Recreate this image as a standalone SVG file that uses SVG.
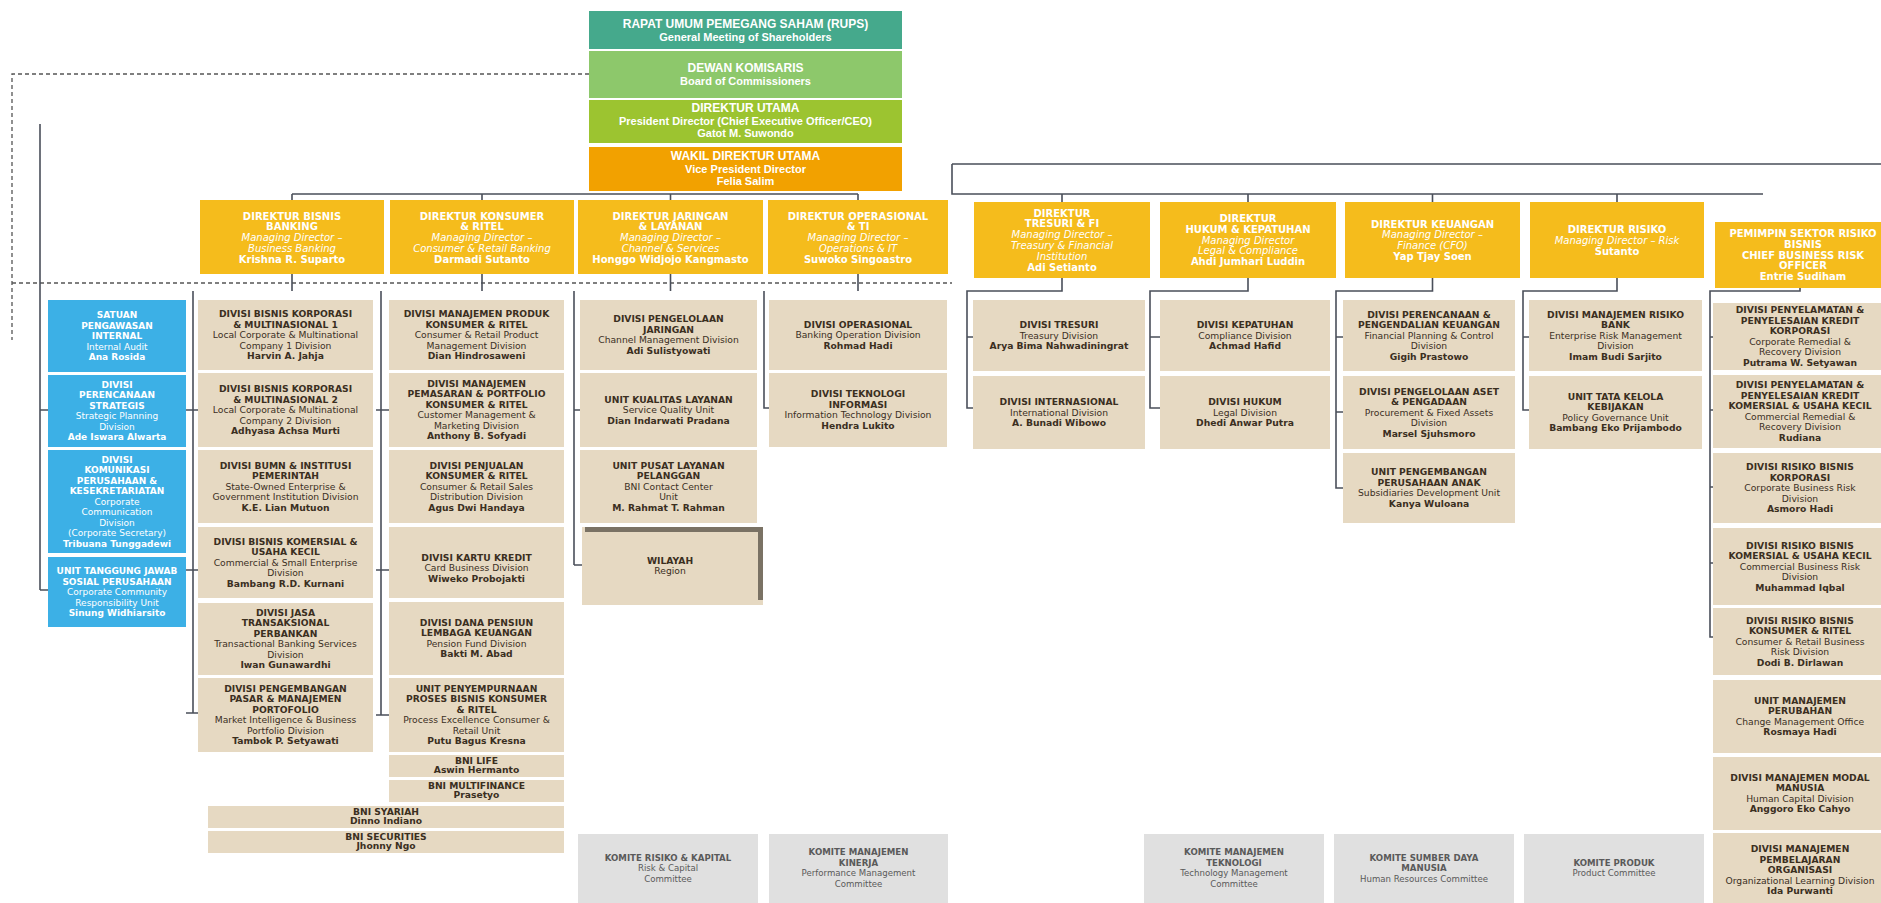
<svg xmlns="http://www.w3.org/2000/svg" width="1881" height="903" viewBox="0 0 1881 903">
<style>
.bx{fill:#e6d9c2}
.bl{fill:#3cb0e6}
.dy{fill:#f5bc1c}
.cm{fill:#e0e0e0}
.ln{stroke:#4a4f5a;stroke-width:1.6;fill:none}
.ds{stroke:#555;stroke-width:1.3;stroke-dasharray:4 3;fill:none}
.t{font-family:"DejaVu Sans","Liberation Sans",sans-serif;font-size:9.2px;fill:#3b2f1f;text-anchor:middle}
.tw{font-family:"DejaVu Sans","Liberation Sans",sans-serif;font-size:9px;fill:#ffffff;text-anchor:middle}
.td{font-family:"DejaVu Sans","Liberation Sans",sans-serif;font-size:10px;fill:#ffffff;text-anchor:middle;font-weight:bold}
.tt{font-family:"Liberation Sans",Arial,sans-serif;font-size:11px;fill:#ffffff;text-anchor:middle;font-weight:bold}
.tt .h{font-size:12px}
.tc{font-family:"DejaVu Sans","Liberation Sans",sans-serif;font-size:8.6px;fill:#5a5a5a;text-anchor:middle}
.b{font-weight:bold}
.i{font-style:italic;font-weight:normal}
</style>
<rect width="1881" height="903" fill="#ffffff"/>

<g id="connectors">
<path class="ds" d="M589 74 H12 V340"/>
<path class="ds" d="M12 283 H952"/>
<path class="ln" d="M40 124 V590 M40 410 H48 M40 590 H48"/>
<path class="ln" d="M292 194 H858 M292 194 V200 M482 194 V200 M670.5 194 V200 M858 194 V200"/>
<path class="ln" d="M952 164 H1881 M952 164 V194 H1763 M1062 194 V202 M1248 194 V202 M1432.5 194 V202 M1617 194 V202"/>
<path class="ln" d="M292 274 V291 M482 274 V291 M670.5 274 V291 M858 274 V291"/>
<path class="ln" d="M193 291 V713 M186 410 H198 M186 570 H198 M186 713 H198"/>
<path class="ln" d="M381 291 V715 M376 410 H389 M376 570 H389 M376 715 H389"/>
<path class="ln" d="M574 291 V565 M574 410 H580 M574 565 H583"/>
<path class="ln" d="M764 291 V408 H769"/>
<path class="ln" d="M1062 278 V291 H967 V408 H973 M967 337 H973"/>
<path class="ln" d="M1248 278 V291 H1150 V408 H1160 M1150 337 H1160"/>
<path class="ln" d="M1432.5 278 V291 H1336 V488 H1343 M1336 337 H1343 M1336 412 H1343"/>
<path class="ln" d="M1617 278 V291 H1523 V410 H1529 M1523 337 H1529"/>
<path class="ln" d="M1800 288 V291 H1710 V637 H1713 M1710 337 H1713 M1710 410 H1713 M1710 487 H1713 M1710 563 H1713"/>
</g>

<g id="rups"><rect x="589" y="11" width="313" height="38" fill="#45a98c"/>
<text class="tt" x="745.5" y="28"><tspan x="745.5" class="h">RAPAT UMUM PEMEGANG SAHAM (RUPS)</tspan><tspan x="745.5" dy="12.5">General Meeting of Shareholders</tspan></text></g>
<g id="dekom"><rect x="589" y="51" width="313" height="47" fill="#8dc86b"/>
<text class="tt" x="745.5" y="72"><tspan x="745.5" class="h">DEWAN KOMISARIS</tspan><tspan x="745.5" dy="12.5">Board of Commissioners</tspan></text></g>
<g id="dirut"><rect x="589" y="100" width="313" height="43" fill="#9cc430"/>
<text class="tt" x="745.5" y="112"><tspan x="745.5" class="h">DIREKTUR UTAMA</tspan><tspan x="745.5" dy="12.5">President Director (Chief Executive Officer/CEO)</tspan><tspan x="745.5" dy="12.5">Gatot M. Suwondo</tspan></text></g>
<g id="wadirut"><rect x="589" y="147" width="313" height="44" fill="#f2a100"/>
<text class="tt" x="745.5" y="160"><tspan x="745.5" class="h">WAKIL DIREKTUR UTAMA</tspan><tspan x="745.5" dy="12.5">Vice President Director</tspan><tspan x="745.5" dy="12.5">Felia Salim</tspan></text></g>

<g id="dir-bisnis"><rect class="dy" x="200" y="200" width="184" height="74"/>
<text class="td" y="219.5"><tspan x="292">DIREKTUR BISNIS</tspan><tspan x="292" dy="10.8">BANKING</tspan><tspan x="292" dy="10.8" class="i">Managing Director –</tspan><tspan x="292" dy="10.8" class="i">Business Banking</tspan><tspan x="292" dy="10.8">Krishna R. Suparto</tspan></text></g>
<g id="dir-konsumer"><rect class="dy" x="390" y="200" width="184" height="74"/>
<text class="td" y="219.5"><tspan x="482">DIREKTUR KONSUMER</tspan><tspan x="482" dy="10.8">&amp; RITEL</tspan><tspan x="482" dy="10.8" class="i">Managing Director –</tspan><tspan x="482" dy="10.8" class="i">Consumer &amp; Retail Banking</tspan><tspan x="482" dy="10.8">Darmadi Sutanto</tspan></text></g>
<g id="dir-jaringan"><rect class="dy" x="578" y="200" width="185" height="74"/>
<text class="td" y="219.5"><tspan x="670.5">DIREKTUR JARINGAN</tspan><tspan x="670.5" dy="10.8">&amp; LAYANAN</tspan><tspan x="670.5" dy="10.8" class="i">Managing Director –</tspan><tspan x="670.5" dy="10.8" class="i">Channel &amp; Services</tspan><tspan x="670.5" dy="10.8">Honggo Widjojo Kangmasto</tspan></text></g>
<g id="dir-operasional"><rect class="dy" x="768" y="200" width="180" height="74"/>
<text class="td" y="219.5"><tspan x="858">DIREKTUR OPERASIONAL</tspan><tspan x="858" dy="10.8">&amp; TI</tspan><tspan x="858" dy="10.8" class="i">Managing Director –</tspan><tspan x="858" dy="10.8" class="i">Operations &amp; IT</tspan><tspan x="858" dy="10.8">Suwoko Singoastro</tspan></text></g>
<g id="dir-tresuri"><rect class="dy" x="974" y="202" width="176" height="76"/>
<text class="td" y="216.5"><tspan x="1062">DIREKTUR</tspan><tspan x="1062" dy="10.8">TRESURI &amp; FI</tspan><tspan x="1062" dy="10.8" class="i">Managing Director –</tspan><tspan x="1062" dy="10.8" class="i">Treasury &amp; Financial</tspan><tspan x="1062" dy="10.8" class="i">Institution</tspan><tspan x="1062" dy="10.8">Adi Setianto</tspan></text></g>
<g id="dir-hukum"><rect class="dy" x="1160" y="202" width="176" height="76"/>
<text class="td" y="222"><tspan x="1248">DIREKTUR</tspan><tspan x="1248" dy="10.8">HUKUM &amp; KEPATUHAN</tspan><tspan x="1248" dy="10.8" class="i">Managing Director</tspan><tspan x="1248" dy="10.8" class="i">Legal &amp; Compliance</tspan><tspan x="1248" dy="10.8">Ahdi Jumhari Luddin</tspan></text></g>
<g id="dir-keuangan"><rect class="dy" x="1345" y="202" width="175" height="76"/>
<text class="td" y="227.5"><tspan x="1432.5">DIREKTUR KEUANGAN</tspan><tspan x="1432.5" dy="10.8" class="i">Managing Director –</tspan><tspan x="1432.5" dy="10.8" class="i">Finance (CFO)</tspan><tspan x="1432.5" dy="10.8">Yap Tjay Soen</tspan></text></g>
<g id="dir-risiko"><rect class="dy" x="1530" y="202" width="174" height="76"/>
<text class="td" y="233"><tspan x="1617">DIREKTUR RISIKO</tspan><tspan x="1617" dy="10.8" class="i">Managing Director – Risk</tspan><tspan x="1617" dy="10.8">Sutanto</tspan></text></g>
<g id="cbro"><rect class="dy" x="1715" y="222" width="176" height="66"/>
<text class="td" y="237"><tspan x="1803">PEMIMPIN SEKTOR RISIKO</tspan><tspan x="1803" dy="10.8">BISNIS</tspan><tspan x="1803" dy="10.8">CHIEF BUSINESS RISK</tspan><tspan x="1803" dy="10.8">OFFICER</tspan><tspan x="1803" dy="10.8">Entrie Sudiham</tspan></text></g>

<g id="spi"><rect class="bl" x="48" y="300" width="138" height="72"/>
<text class="tw" y="318"><tspan x="117" class="b">SATUAN</tspan><tspan x="117" dy="10.5" class="b">PENGAWASAN</tspan><tspan x="117" dy="10.5" class="b">INTERNAL</tspan><tspan x="117" dy="10.5">Internal Audit</tspan><tspan x="117" dy="10.5" class="b">Ana Rosida</tspan></text></g>
<g id="strategis"><rect class="bl" x="48" y="375" width="138" height="72"/>
<text class="tw" y="387.75"><tspan x="117" class="b">DIVISI</tspan><tspan x="117" dy="10.5" class="b">PERENCANAAN</tspan><tspan x="117" dy="10.5" class="b">STRATEGIS</tspan><tspan x="117" dy="10.5">Strategic Planning</tspan><tspan x="117" dy="10.5">Division</tspan><tspan x="117" dy="10.5" class="b">Ade Iswara Alwarta</tspan></text></g>
<g id="komunikasi"><rect class="bl" x="48" y="450" width="138" height="103"/>
<text class="tw" y="462.5"><tspan x="117" class="b">DIVISI</tspan><tspan x="117" dy="10.5" class="b">KOMUNIKASI</tspan><tspan x="117" dy="10.5" class="b">PERUSAHAAN &amp;</tspan><tspan x="117" dy="10.5" class="b">KESEKRETARIATAN</tspan><tspan x="117" dy="10.5">Corporate</tspan><tspan x="117" dy="10.5">Communication</tspan><tspan x="117" dy="10.5">Division</tspan><tspan x="117" dy="10.5">(Corporate Secretary)</tspan><tspan x="117" dy="10.5" class="b">Tribuana Tunggadewi</tspan></text></g>
<g id="csr"><rect class="bl" x="48" y="557" width="138" height="70"/>
<text class="tw" y="574"><tspan x="117" class="b">UNIT TANGGUNG JAWAB</tspan><tspan x="117" dy="10.5" class="b">SOSIAL PERUSAHAAN</tspan><tspan x="117" dy="10.5">Corporate Community</tspan><tspan x="117" dy="10.5">Responsibility Unit</tspan><tspan x="117" dy="10.5" class="b">Sinung Widhiarsito</tspan></text></g>

<g id="bk1"><rect class="bx" x="198" y="300" width="175" height="70"/>
<text class="t" y="317"><tspan x="285.5" class="b">DIVISI BISNIS KORPORASI</tspan><tspan x="285.5" dy="10.5" class="b">&amp; MULTINASIONAL 1</tspan><tspan x="285.5" dy="10.5">Local Corporate &amp; Multinational</tspan><tspan x="285.5" dy="10.5">Company 1 Division</tspan><tspan x="285.5" dy="10.5" class="b">Harvin A. Jahja</tspan></text></g>
<g id="bk2"><rect class="bx" x="198" y="373" width="175" height="74"/>
<text class="t" y="392"><tspan x="285.5" class="b">DIVISI BISNIS KORPORASI</tspan><tspan x="285.5" dy="10.5" class="b">&amp; MULTINASIONAL 2</tspan><tspan x="285.5" dy="10.5">Local Corporate &amp; Multinational</tspan><tspan x="285.5" dy="10.5">Company 2 Division</tspan><tspan x="285.5" dy="10.5" class="b">Adhyasa Achsa Murti</tspan></text></g>
<g id="bumn"><rect class="bx" x="198" y="450" width="175" height="73"/>
<text class="t" y="468.5"><tspan x="285.5" class="b">DIVISI BUMN &amp; INSTITUSI</tspan><tspan x="285.5" dy="10.5" class="b">PEMERINTAH</tspan><tspan x="285.5" dy="10.5">State-Owned Enterprise &amp;</tspan><tspan x="285.5" dy="10.5">Government Institution Division</tspan><tspan x="285.5" dy="10.5" class="b">K.E. Lian Mutuon</tspan></text></g>
<g id="komersial"><rect class="bx" x="198" y="527" width="175" height="71"/>
<text class="t" y="544.5"><tspan x="285.5" class="b">DIVISI BISNIS KOMERSIAL &amp;</tspan><tspan x="285.5" dy="10.5" class="b">USAHA KECIL</tspan><tspan x="285.5" dy="10.5">Commercial &amp; Small Enterprise</tspan><tspan x="285.5" dy="10.5">Division</tspan><tspan x="285.5" dy="10.5" class="b">Bambang R.D. Kurnani</tspan></text></g>
<g id="jasa"><rect class="bx" x="198" y="603" width="175" height="72"/>
<text class="t" y="615.75"><tspan x="285.5" class="b">DIVISI JASA</tspan><tspan x="285.5" dy="10.5" class="b">TRANSAKSIONAL</tspan><tspan x="285.5" dy="10.5" class="b">PERBANKAN</tspan><tspan x="285.5" dy="10.5">Transactional Banking Services</tspan><tspan x="285.5" dy="10.5">Division</tspan><tspan x="285.5" dy="10.5" class="b">Iwan Gunawardhi</tspan></text></g>
<g id="pasar"><rect class="bx" x="198" y="678" width="175" height="74"/>
<text class="t" y="691.75"><tspan x="285.5" class="b">DIVISI PENGEMBANGAN</tspan><tspan x="285.5" dy="10.5" class="b">PASAR &amp; MANAJEMEN</tspan><tspan x="285.5" dy="10.5" class="b">PORTOFOLIO</tspan><tspan x="285.5" dy="10.5">Market Intelligence &amp; Business</tspan><tspan x="285.5" dy="10.5">Portfolio Division</tspan><tspan x="285.5" dy="10.5" class="b">Tambok P. Setyawati</tspan></text></g>

<g id="produk"><rect class="bx" x="389" y="300" width="175" height="70"/>
<text class="t" y="317"><tspan x="476.5" class="b">DIVISI MANAJEMEN PRODUK</tspan><tspan x="476.5" dy="10.5" class="b">KONSUMER &amp; RITEL</tspan><tspan x="476.5" dy="10.5">Consumer &amp; Retail Product</tspan><tspan x="476.5" dy="10.5">Management Division</tspan><tspan x="476.5" dy="10.5" class="b">Dian Hindrosaweni</tspan></text></g>
<g id="pemasaran"><rect class="bx" x="389" y="373" width="175" height="74"/>
<text class="t" y="386.75"><tspan x="476.5" class="b">DIVISI MANAJEMEN</tspan><tspan x="476.5" dy="10.5" class="b">PEMASARAN &amp; PORTFOLIO</tspan><tspan x="476.5" dy="10.5" class="b">KONSUMER &amp; RITEL</tspan><tspan x="476.5" dy="10.5">Customer Management &amp;</tspan><tspan x="476.5" dy="10.5">Marketing Division</tspan><tspan x="476.5" dy="10.5" class="b">Anthony B. Sofyadi</tspan></text></g>
<g id="penjualan"><rect class="bx" x="389" y="450" width="175" height="73"/>
<text class="t" y="468.5"><tspan x="476.5" class="b">DIVISI PENJUALAN</tspan><tspan x="476.5" dy="10.5" class="b">KONSUMER &amp; RITEL</tspan><tspan x="476.5" dy="10.5">Consumer &amp; Retail Sales</tspan><tspan x="476.5" dy="10.5">Distribution Division</tspan><tspan x="476.5" dy="10.5" class="b">Agus Dwi Handaya</tspan></text></g>
<g id="kartu"><rect class="bx" x="389" y="527" width="175" height="71"/>
<text class="t" y="560.5"><tspan x="476.5" class="b">DIVISI KARTU KREDIT</tspan><tspan x="476.5" dy="10.5">Card Business Division</tspan><tspan x="476.5" dy="10.5" class="b">Wiweko Probojakti</tspan></text></g>
<g id="dapen"><rect class="bx" x="389" y="602" width="175" height="73"/>
<text class="t" y="625.75"><tspan x="476.5" class="b">DIVISI DANA PENSIUN</tspan><tspan x="476.5" dy="10.5" class="b">LEMBAGA KEUANGAN</tspan><tspan x="476.5" dy="10.5">Pension Fund Division</tspan><tspan x="476.5" dy="10.5" class="b">Bakti M. Abad</tspan></text></g>
<g id="proses"><rect class="bx" x="389" y="678" width="175" height="74"/>
<text class="t" y="691.75"><tspan x="476.5" class="b">UNIT PENYEMPURNAAN</tspan><tspan x="476.5" dy="10.5" class="b">PROSES BISNIS KONSUMER</tspan><tspan x="476.5" dy="10.5" class="b">&amp; RITEL</tspan><tspan x="476.5" dy="10.5">Process Excellence Consumer &amp;</tspan><tspan x="476.5" dy="10.5">Retail Unit</tspan><tspan x="476.5" dy="10.5" class="b">Putu Bagus Kresna</tspan></text></g>
<g id="bnilife"><rect class="bx" x="389" y="755" width="175" height="22"/>
<text class="t" y="764"><tspan x="476.5" class="b">BNI LIFE</tspan><tspan x="476.5" dy="9" class="b">Aswin Hermanto</tspan></text></g>
<g id="multifinance"><rect class="bx" x="389" y="780" width="175" height="22"/>
<text class="t" y="789"><tspan x="476.5" class="b">BNI MULTIFINANCE</tspan><tspan x="476.5" dy="9" class="b">Prasetyo</tspan></text></g>
<g id="syariah"><rect class="bx" x="208" y="806" width="356" height="22"/>
<text class="t" y="815"><tspan x="386" class="b">BNI SYARIAH</tspan><tspan x="386" dy="9" class="b">Dinno Indiano</tspan></text></g>
<g id="securities"><rect class="bx" x="208" y="831" width="356" height="22"/>
<text class="t" y="840"><tspan x="386" class="b">BNI SECURITIES</tspan><tspan x="386" dy="9" class="b">Jhonny Ngo</tspan></text></g>

<g id="jaringan"><rect class="bx" x="580" y="300" width="177" height="70"/>
<text class="t" y="322.25"><tspan x="668.5" class="b">DIVISI PENGELOLAAN</tspan><tspan x="668.5" dy="10.5" class="b">JARINGAN</tspan><tspan x="668.5" dy="10.5">Channel Management Division</tspan><tspan x="668.5" dy="10.5" class="b">Adi Sulistyowati</tspan></text></g>
<g id="kualitas"><rect class="bx" x="580" y="373" width="177" height="74"/>
<text class="t" y="402.5"><tspan x="668.5" class="b">UNIT KUALITAS LAYANAN</tspan><tspan x="668.5" dy="10.5">Service Quality Unit</tspan><tspan x="668.5" dy="10.5" class="b">Dian Indarwati Pradana</tspan></text></g>
<g id="contact"><rect class="bx" x="580" y="450" width="177" height="73"/>
<text class="t" y="468.5"><tspan x="668.5" class="b">UNIT PUSAT LAYANAN</tspan><tspan x="668.5" dy="10.5" class="b">PELANGGAN</tspan><tspan x="668.5" dy="10.5">BNI Contact Center</tspan><tspan x="668.5" dy="10.5">Unit</tspan><tspan x="668.5" dy="10.5" class="b">M. Rahmat T. Rahman</tspan></text></g>
<g id="wilayah"><rect class="bx" x="582" y="527" width="181" height="78"/>
<rect x="585" y="527" width="178" height="5" fill="#7a7264"/><rect x="758" y="527" width="5" height="73" fill="#7a7264"/>
<text class="t" y="563.75"><tspan x="670" class="b">WILAYAH</tspan><tspan x="670" dy="10.5">Region</tspan></text></g>

<g id="operasional"><rect class="bx" x="769" y="300" width="178" height="70"/>
<text class="t" y="327.5"><tspan x="858" class="b">DIVISI OPERASIONAL</tspan><tspan x="858" dy="10.5">Banking Operation Division</tspan><tspan x="858" dy="10.5" class="b">Rohmad Hadi</tspan></text></g>
<g id="ti"><rect class="bx" x="769" y="373" width="178" height="74"/>
<text class="t" y="397.25"><tspan x="858" class="b">DIVISI TEKNOLOGI</tspan><tspan x="858" dy="10.5" class="b">INFORMASI</tspan><tspan x="858" dy="10.5">Information Technology Division</tspan><tspan x="858" dy="10.5" class="b">Hendra Lukito</tspan></text></g>

<g id="tresuri"><rect class="bx" x="973" y="300" width="172" height="71"/>
<text class="t" y="328"><tspan x="1059" class="b">DIVISI TRESURI</tspan><tspan x="1059" dy="10.5">Treasury Division</tspan><tspan x="1059" dy="10.5" class="b">Arya Bima Nahwadiningrat</tspan></text></g>
<g id="internasional"><rect class="bx" x="973" y="376" width="172" height="73"/>
<text class="t" y="405"><tspan x="1059" class="b">DIVISI INTERNASIONAL</tspan><tspan x="1059" dy="10.5">International Division</tspan><tspan x="1059" dy="10.5" class="b">A. Bunadi Wibowo</tspan></text></g>

<g id="kepatuhan"><rect class="bx" x="1160" y="300" width="170" height="71"/>
<text class="t" y="328"><tspan x="1245" class="b">DIVISI KEPATUHAN</tspan><tspan x="1245" dy="10.5">Compliance Division</tspan><tspan x="1245" dy="10.5" class="b">Achmad Hafid</tspan></text></g>
<g id="hukum"><rect class="bx" x="1160" y="376" width="170" height="73"/>
<text class="t" y="405"><tspan x="1245" class="b">DIVISI HUKUM</tspan><tspan x="1245" dy="10.5">Legal Division</tspan><tspan x="1245" dy="10.5" class="b">Dhedi Anwar Putra</tspan></text></g>

<g id="keuangan"><rect class="bx" x="1343" y="300" width="172" height="71"/>
<text class="t" y="317.5"><tspan x="1429" class="b">DIVISI PERENCANAAN &amp;</tspan><tspan x="1429" dy="10.5" class="b">PENGENDALIAN KEUANGAN</tspan><tspan x="1429" dy="10.5">Financial Planning &amp; Control</tspan><tspan x="1429" dy="10.5">Division</tspan><tspan x="1429" dy="10.5" class="b">Gigih Prastowo</tspan></text></g>
<g id="aset"><rect class="bx" x="1343" y="376" width="172" height="73"/>
<text class="t" y="394.5"><tspan x="1429" class="b">DIVISI PENGELOLAAN ASET</tspan><tspan x="1429" dy="10.5" class="b">&amp; PENGADAAN</tspan><tspan x="1429" dy="10.5">Procurement &amp; Fixed Assets</tspan><tspan x="1429" dy="10.5">Division</tspan><tspan x="1429" dy="10.5" class="b">Marsel Sjuhsmoro</tspan></text></g>
<g id="anak"><rect class="bx" x="1343" y="453" width="172" height="70"/>
<text class="t" y="475.25"><tspan x="1429" class="b">UNIT PENGEMBANGAN</tspan><tspan x="1429" dy="10.5" class="b">PERUSAHAAN ANAK</tspan><tspan x="1429" dy="10.5">Subsidiaries Development Unit</tspan><tspan x="1429" dy="10.5" class="b">Kanya Wuloana</tspan></text></g>

<g id="risikobank"><rect class="bx" x="1529" y="300" width="173" height="71"/>
<text class="t" y="317.5"><tspan x="1615.5" class="b">DIVISI MANAJEMEN RISIKO</tspan><tspan x="1615.5" dy="10.5" class="b">BANK</tspan><tspan x="1615.5" dy="10.5">Enterprise Risk Management</tspan><tspan x="1615.5" dy="10.5">Division</tspan><tspan x="1615.5" dy="10.5" class="b">Imam Budi Sarjito</tspan></text></g>
<g id="kebijakan"><rect class="bx" x="1529" y="376" width="173" height="73"/>
<text class="t" y="399.75"><tspan x="1615.5" class="b">UNIT TATA KELOLA</tspan><tspan x="1615.5" dy="10.5" class="b">KEBIJAKAN</tspan><tspan x="1615.5" dy="10.5">Policy Governance Unit</tspan><tspan x="1615.5" dy="10.5" class="b">Bambang Eko Prijambodo</tspan></text></g>

<g id="remedial-korp"><rect class="bx" x="1713" y="303" width="178" height="67"/>
<text class="t" y="313.25"><tspan x="1800" class="b">DIVISI PENYELAMATAN &amp;</tspan><tspan x="1800" dy="10.5" class="b">PENYELESAIAN KREDIT</tspan><tspan x="1800" dy="10.5" class="b">KORPORASI</tspan><tspan x="1800" dy="10.5">Corporate Remedial &amp;</tspan><tspan x="1800" dy="10.5">Recovery Division</tspan><tspan x="1800" dy="10.5" class="b">Putrama W. Setyawan</tspan></text></g>
<g id="remedial-kom"><rect class="bx" x="1713" y="375" width="178" height="73"/>
<text class="t" y="388.25"><tspan x="1800" class="b">DIVISI PENYELAMATAN &amp;</tspan><tspan x="1800" dy="10.5" class="b">PENYELESAIAN KREDIT</tspan><tspan x="1800" dy="10.5" class="b">KOMERSIAL &amp; USAHA KECIL</tspan><tspan x="1800" dy="10.5">Commercial Remedial &amp;</tspan><tspan x="1800" dy="10.5">Recovery Division</tspan><tspan x="1800" dy="10.5" class="b">Rudiana</tspan></text></g>
<g id="risiko-korp"><rect class="bx" x="1713" y="453" width="178" height="70"/>
<text class="t" y="470"><tspan x="1800" class="b">DIVISI RISIKO BISNIS</tspan><tspan x="1800" dy="10.5" class="b">KORPORASI</tspan><tspan x="1800" dy="10.5">Corporate Business Risk</tspan><tspan x="1800" dy="10.5">Division</tspan><tspan x="1800" dy="10.5" class="b">Asmoro Hadi</tspan></text></g>
<g id="risiko-kom"><rect class="bx" x="1713" y="528" width="178" height="77"/>
<text class="t" y="548.5"><tspan x="1800" class="b">DIVISI RISIKO BISNIS</tspan><tspan x="1800" dy="10.5" class="b">KOMERSIAL &amp; USAHA KECIL</tspan><tspan x="1800" dy="10.5">Commercial Business Risk</tspan><tspan x="1800" dy="10.5">Division</tspan><tspan x="1800" dy="10.5" class="b">Muhammad Iqbal</tspan></text></g>
<g id="risiko-kon"><rect class="bx" x="1713" y="608" width="178" height="67"/>
<text class="t" y="623.5"><tspan x="1800" class="b">DIVISI RISIKO BISNIS</tspan><tspan x="1800" dy="10.5" class="b">KONSUMER &amp; RITEL</tspan><tspan x="1800" dy="10.5">Consumer &amp; Retail Business</tspan><tspan x="1800" dy="10.5">Risk Division</tspan><tspan x="1800" dy="10.5" class="b">Dodi B. Dirlawan</tspan></text></g>
<g id="perubahan"><rect class="bx" x="1713" y="680" width="178" height="73"/>
<text class="t" y="703.75"><tspan x="1800" class="b">UNIT MANAJEMEN</tspan><tspan x="1800" dy="10.5" class="b">PERUBAHAN</tspan><tspan x="1800" dy="10.5">Change Management Office</tspan><tspan x="1800" dy="10.5" class="b">Rosmaya Hadi</tspan></text></g>
<g id="human"><rect class="bx" x="1713" y="757" width="178" height="73"/>
<text class="t" y="780.75"><tspan x="1800" class="b">DIVISI MANAJEMEN MODAL</tspan><tspan x="1800" dy="10.5" class="b">MANUSIA</tspan><tspan x="1800" dy="10.5">Human Capital Division</tspan><tspan x="1800" dy="10.5" class="b">Anggoro Eko Cahyo</tspan></text></g>
<g id="learning"><rect class="bx" x="1713" y="833" width="178" height="70"/>
<text class="t" y="852"><tspan x="1800" class="b">DIVISI MANAJEMEN</tspan><tspan x="1800" dy="10.5" class="b">PEMBELAJARAN</tspan><tspan x="1800" dy="10.5" class="b">ORGANISASI</tspan><tspan x="1800" dy="10.5">Organizational Learning Division</tspan><tspan x="1800" dy="10.5" class="b">Ida Purwanti</tspan></text></g>

<g id="k-risiko"><rect class="cm" x="578" y="834" width="180" height="69"/>
<text class="tc" y="860.5"><tspan x="668" class="b">KOMITE RISIKO &amp; KAPITAL</tspan><tspan x="668" dy="10.5">Risk &amp; Capital</tspan><tspan x="668" dy="10.5">Committee</tspan></text></g>
<g id="k-kinerja"><rect class="cm" x="769" y="834" width="179" height="69"/>
<text class="tc" y="855.25"><tspan x="858.5" class="b">KOMITE MANAJEMEN</tspan><tspan x="858.5" dy="10.5" class="b">KINERJA</tspan><tspan x="858.5" dy="10.5">Performance Management</tspan><tspan x="858.5" dy="10.5">Committee</tspan></text></g>
<g id="k-teknologi"><rect class="cm" x="1144" y="834" width="180" height="69"/>
<text class="tc" y="855.25"><tspan x="1234" class="b">KOMITE MANAJEMEN</tspan><tspan x="1234" dy="10.5" class="b">TEKNOLOGI</tspan><tspan x="1234" dy="10.5">Technology Management</tspan><tspan x="1234" dy="10.5">Committee</tspan></text></g>
<g id="k-sdm"><rect class="cm" x="1334" y="834" width="180" height="69"/>
<text class="tc" y="860.5"><tspan x="1424" class="b">KOMITE SUMBER DAYA</tspan><tspan x="1424" dy="10.5" class="b">MANUSIA</tspan><tspan x="1424" dy="10.5">Human Resources Committee</tspan></text></g>
<g id="k-produk"><rect class="cm" x="1524" y="834" width="180" height="69"/>
<text class="tc" y="865.75"><tspan x="1614" class="b">KOMITE PRODUK</tspan><tspan x="1614" dy="10.5">Product Committee</tspan></text></g>
</svg>
